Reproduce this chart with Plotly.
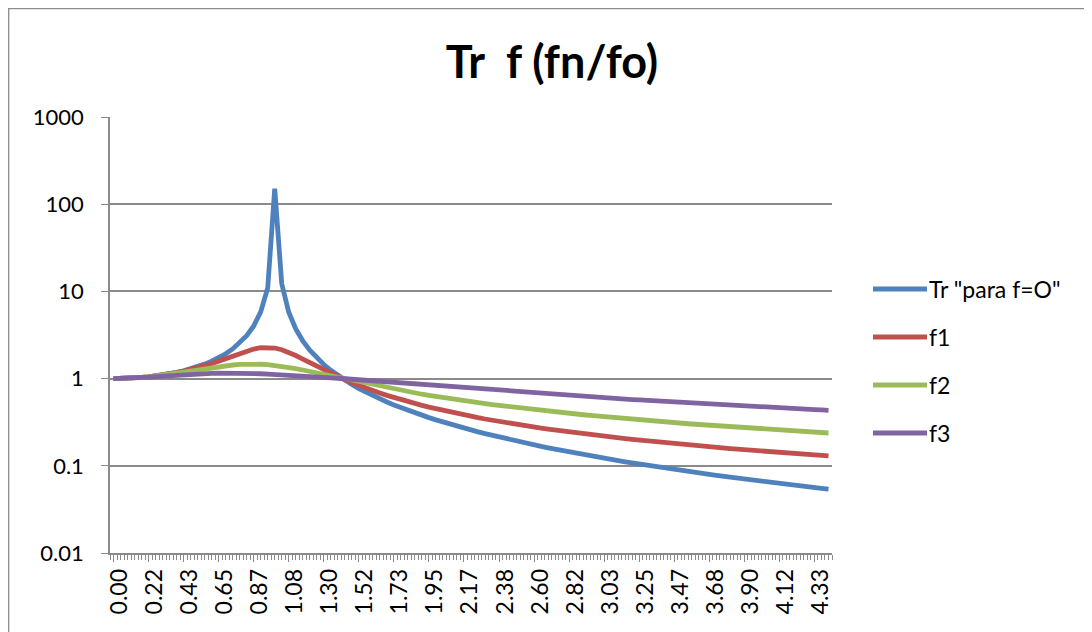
import plotly.graph_objects as go

# Category labels (fn/fo), one per data point
categories = [
    "0.00", "0.04", "0.09", "0.13", "0.17", "0.22", "0.26", "0.30", "0.35", "0.39",
    "0.43", "0.48", "0.52", "0.56", "0.61", "0.65", "0.69", "0.74", "0.78", "0.82",
    "0.87", "0.91", "0.95", "1.00", "1.04", "1.08", "1.13", "1.17", "1.21", "1.26",
    "1.30", "1.34", "1.39", "1.43", "1.47", "1.52", "1.56", "1.60", "1.65", "1.69",
    "1.73", "1.78", "1.82", "1.86", "1.91", "1.95", "1.99", "2.04", "2.08", "2.12",
    "2.17", "2.21", "2.25", "2.30", "2.34", "2.38", "2.43", "2.47", "2.51", "2.56",
    "2.60", "2.64", "2.69", "2.73", "2.77", "2.82", "2.86", "2.90", "2.95", "2.99",
    "3.03", "3.08", "3.12", "3.16", "3.21", "3.25", "3.29", "3.34", "3.38", "3.42",
    "3.47", "3.51", "3.55", "3.60", "3.64", "3.68", "3.73", "3.77", "3.81", "3.86",
    "3.90", "3.94", "3.99", "4.03", "4.07", "4.12", "4.16", "4.20", "4.25", "4.29",
    "4.33", "4.38", "4.42",
]

tr_f0 = [
    1.000, 1.002, 1.008, 1.017, 1.031, 1.049, 1.073, 1.101, 1.137, 1.179,
    1.231, 1.294, 1.371, 1.465, 1.582, 1.732, 1.926, 2.187, 2.554, 3.104,
    4.018, 5.817, 10.97, 150.2, 12.25, 5.760, 3.712, 2.711, 2.118, 1.726,
    1.449, 1.243, 1.084, 0.9570, 0.8542, 0.7691, 0.6975, 0.6367, 0.5843, 0.5388,
    0.4989, 0.4637, 0.4325, 0.4045, 0.3795, 0.3568, 0.3363, 0.3177, 0.3006, 0.2850,
    0.2707, 0.2575, 0.2453, 0.2339, 0.2234, 0.2137, 0.2046, 0.1960, 0.1881, 0.1806,
    0.1736, 0.1670, 0.1608, 0.1550, 0.1495, 0.1442, 0.1393, 0.1346, 0.1302, 0.1259,
    0.1219, 0.1181, 0.1145, 0.1110, 0.1077, 0.1046, 0.1016, 0.09868, 0.09593, 0.09329,
    0.09076, 0.08834, 0.08601, 0.08378, 0.08164, 0.07957, 0.07759, 0.07568, 0.07385, 0.07208,
    0.07037, 0.06873, 0.06714, 0.06561, 0.06414, 0.06271, 0.06133, 0.05999, 0.05871, 0.05746,
    0.05625, 0.05508, 0.05395,
]

f1 = [
    1.000, 1.002, 1.008, 1.017, 1.031, 1.049, 1.071, 1.099, 1.132, 1.171,
    1.217, 1.271, 1.334, 1.407, 1.491, 1.587, 1.695, 1.815, 1.942, 2.069,
    2.181, 2.259, 2.283, 2.242, 2.141, 1.999, 1.838, 1.675, 1.521, 1.382,
    1.258, 1.149, 1.054, 0.9709, 0.8980, 0.8338, 0.7771, 0.7268, 0.6820, 0.6420,
    0.6060, 0.5735, 0.5441, 0.5174, 0.4930, 0.4707, 0.4502, 0.4314, 0.4140, 0.3979,
    0.3829, 0.3691, 0.3561, 0.3440, 0.3327, 0.3221, 0.3122, 0.3028, 0.2940, 0.2856,
    0.2778, 0.2703, 0.2633, 0.2566, 0.2502, 0.2441, 0.2384, 0.2329, 0.2276, 0.2226,
    0.2178, 0.2132, 0.2088, 0.2046, 0.2006, 0.1967, 0.1930, 0.1894, 0.1860, 0.1826,
    0.1794, 0.1763, 0.1734, 0.1705, 0.1677, 0.1650, 0.1624, 0.1599, 0.1574, 0.1551,
    0.1528, 0.1506, 0.1484, 0.1463, 0.1443, 0.1423, 0.1404, 0.1385, 0.1367, 0.1350,
    0.1332, 0.1316, 0.1299,
]

f2 = [
    1.000, 1.002, 1.008, 1.017, 1.030, 1.047, 1.067, 1.092, 1.119, 1.150,
    1.184, 1.220, 1.258, 1.297, 1.335, 1.372, 1.405, 1.432, 1.453, 1.465,
    1.468, 1.460, 1.443, 1.417, 1.383, 1.344, 1.300, 1.255, 1.208, 1.161,
    1.114, 1.070, 1.026, 0.9853, 0.9462, 0.9094, 0.8746, 0.8419, 0.8112, 0.7823,
    0.7552, 0.7297, 0.7057, 0.6831, 0.6619, 0.6419, 0.6230, 0.6051, 0.5883, 0.5723,
    0.5572, 0.5428, 0.5292, 0.5162, 0.5039, 0.4921, 0.4809, 0.4702, 0.4600, 0.4502,
    0.4408, 0.4318, 0.4232, 0.4150, 0.4070, 0.3994, 0.3920, 0.3850, 0.3782, 0.3716,
    0.3653, 0.3592, 0.3533, 0.3475, 0.3420, 0.3367, 0.3315, 0.3265, 0.3217, 0.3169,
    0.3124, 0.3079, 0.3036, 0.2995, 0.2954, 0.2915, 0.2876, 0.2839, 0.2802, 0.2767,
    0.2732, 0.2699, 0.2666, 0.2634, 0.2603, 0.2572, 0.2543, 0.2514, 0.2485, 0.2458,
    0.2430, 0.2404, 0.2378,
]

f3 = [
    1.000, 1.002, 1.007, 1.016, 1.028, 1.041, 1.056, 1.071, 1.086, 1.101,
    1.114, 1.126, 1.136, 1.144, 1.149, 1.153, 1.155, 1.154, 1.152, 1.148,
    1.143, 1.136, 1.128, 1.119, 1.109, 1.098, 1.086, 1.074, 1.062, 1.049,
    1.036, 1.022, 1.009, 0.9950, 0.9814, 0.9678, 0.9542, 0.9407, 0.9273, 0.9141,
    0.9010, 0.8881, 0.8754, 0.8628, 0.8505, 0.8384, 0.8264, 0.8147, 0.8033, 0.7920,
    0.7810, 0.7702, 0.7596, 0.7492, 0.7390, 0.7291, 0.7193, 0.7098, 0.7005, 0.6913,
    0.6824, 0.6736, 0.6651, 0.6567, 0.6485, 0.6404, 0.6326, 0.6249, 0.6173, 0.6100,
    0.6027, 0.5957, 0.5887, 0.5819, 0.5753, 0.5688, 0.5624, 0.5561, 0.5500, 0.5440,
    0.5381, 0.5323, 0.5267, 0.5211, 0.5157, 0.5104, 0.5051, 0.5000, 0.4949, 0.4900,
    0.4851, 0.4804, 0.4757, 0.4711, 0.4666, 0.4621, 0.4578, 0.4535, 0.4493, 0.4452,
    0.4411, 0.4371, 0.4332,
]

series_names = ['Tr "para f=O"', "f1", "f2", "f3"]
series_values = [tr_f0, f1, f2, f3]
series_colors = ["#4F81BD", "#C0504D", "#9BBB59", "#8064A2"]

y_tick_values = [0.01, 0.1, 1, 10, 100, 1000]
y_tick_labels = ["0.01", "0.1", "1", "10", "100", "1000"]

title_text = "Tr  f (fn/fo)"

FONT = "Lato, Carlito, 'Noto Sans', sans-serif"
GRID = "#8a8a8a"

xpos = list(range(len(categories)))
label_idx = xpos[::5]

fig = go.Figure()
for name, vals, col in zip(series_names, series_values, series_colors):
    fig.add_trace(go.Scatter(
        x=xpos, y=vals, mode="lines", name=name,
        line=dict(color=col, width=4.8), showlegend=False,
    ))

# The page body adds an 8px offset; work in figure pixels.
OFF = 8
FW, FH = 1092 - 2 * OFF, 632 - OFF
L, R, T, B = 110 - OFF, 832 - OFF, 117 - OFF, 553 - OFF
W, H = R - L, B - T


def px(xref_px):
    return (xref_px - OFF - L) / W


def py(yref_px):
    return (B - (yref_px - OFF)) / H


shapes = []
annotations = []
legend_rows = [289, 337, 385, 433]
for name, col, yr in zip(series_names, series_colors, legend_rows):
    shapes.append(dict(type="line", xref="paper", yref="paper",
                       x0=px(873), x1=px(927), y0=py(yr), y1=py(yr),
                       line=dict(color=col, width=4.8)))
    annotations.append(dict(xref="paper", yref="paper", x=px(927), y=py(yr),
                            text=name, showarrow=False, xanchor="left",
                            yanchor="middle", font=dict(family=FONT, size=23, color="#000000")))

# chart area border
shapes.append(dict(type="rect", xref="paper", yref="paper",
                   x0=px(8.7), x1=px(1087), y0=py(700), y1=py(8.7),
                   line=dict(color="#8c8c8c", width=1.3), fillcolor="rgba(0,0,0,0)",
                   layer="below"))

fig.update_layout(
    width=FW, height=FH,
    margin=dict(l=L, r=FW - R, t=T, b=FH - B),
    paper_bgcolor="white", plot_bgcolor="white",
    title=dict(text="<b>" + title_text + "</b>", xref="container", yref="container",
               x=(552 - OFF) / FW, y=1 - (62 - OFF) / FH, xanchor="center", yanchor="middle",
               font=dict(family=FONT, size=45, color="#000000")),
    shapes=shapes, annotations=annotations,
    showlegend=False,
)

fig.update_xaxes(
    range=[-0.5, len(categories) - 0.5],
    tickmode="array", tickvals=label_idx, ticktext=[categories[i] for i in label_idx],
    tickangle=-90, ticks="outside", ticklen=7, tickcolor=GRID, tickwidth=1.3,
    showline=True, linecolor=GRID, linewidth=1.5,
    showgrid=False, zeroline=False,
    tickfont=dict(family=FONT, size=23, color="#000000"),
    ticklabelstandoff=-2, ticklabelshift=6,
    minor=dict(dtick=0.5, tick0=-0.5, ticks="outside", ticklen=5,
               tickcolor=GRID, tickwidth=1, showgrid=False),
)

fig.update_yaxes(
    type="log", range=[-2, 3],
    tickmode="array", tickvals=y_tick_values, ticktext=y_tick_labels,
    ticks="outside", ticklen=7, tickcolor=GRID, tickwidth=1.3,
    showline=True, linecolor=GRID, linewidth=1.5,
    showgrid=True, gridcolor=GRID, gridwidth=1.5, zeroline=False,
    tickfont=dict(family=FONT, size=22, color="#000000"),
    ticklabelstandoff=13,
)

fig.write_html("out.html")
